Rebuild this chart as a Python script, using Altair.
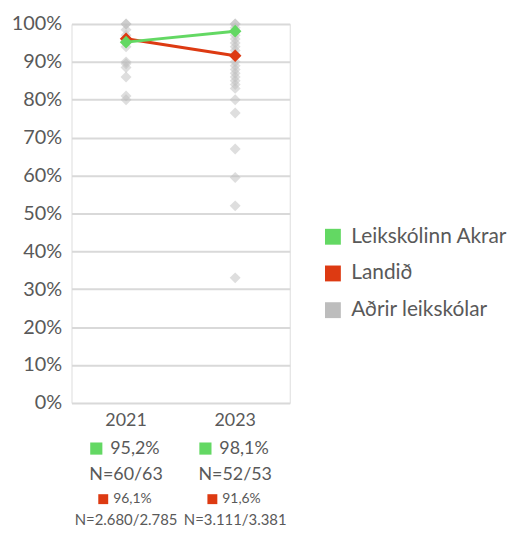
import altair as alt
import pandas as pd

years = ["2021", "2023"]
series = ["Leikskólinn Akrar", "Landið", "Aðrir leikskólar"]
colors = ["#63d863", "#dd3a12", "#bdbdbd"]

akrar = [95.2, 98.1]
landid = [96.1, 91.6]
akrar_n = ["N=60/63", "N=52/53"]
landid_n = ["N=2.680/2.785", "N=3.111/3.381"]

other_2021 = [100, 100, 98.5, 97, 96, 94, 90, 89.5, 88.5, 86, 81, 80]
other_2023 = [100, 100, 99, 98, 97, 96, 95, 94, 93, 92, 90, 89, 88, 87, 86,
              85, 84, 83, 80, 76.5, 67, 59.5, 52, 33]

FONT = "Lato"
TXT = "#595959"

others = pd.DataFrame(
    [{"year": "2021", "value": v, "series": series[2]} for v in other_2021]
    + [{"year": "2023", "value": v, "series": series[2]} for v in other_2023]
)
main = pd.DataFrame(
    [{"year": y, "value": v, "series": series[0]} for y, v in zip(years, akrar)]
    + [{"year": y, "value": v, "series": series[1]} for y, v in zip(years, landid)]
)
labels = pd.DataFrame({
    "year": years,
    "akrar_pct": [f"{v:.1f}".replace(".", ",") + "%" for v in akrar],
    "landid_pct": [f"{v:.1f}".replace(".", ",") + "%" for v in landid],
    "akrar_n": akrar_n,
    "landid_n": landid_n,
})

x = alt.X("year:N", title=None,
          scale=alt.Scale(type="band", paddingInner=0, paddingOuter=0, domain=years),
          axis=None)
y = alt.Y("value:Q", title=None,
          scale=alt.Scale(domain=[0, 100], nice=False),
          axis=alt.Axis(values=list(range(0, 101, 10)), labelExpr="datum.value + '%'",
                        grid=True, gridColor="#d9d9d9", gridWidth=2, domain=False,
                        ticks=False, labelPadding=10, labelFontSize=20,
                        labelColor=TXT, labelFont=FONT, minExtent=64, maxExtent=64))
color = alt.Color("series:N", title=None,
                  scale=alt.Scale(domain=series, range=colors),
                  legend=alt.Legend(orient="none", legendX=253, legendY=204,
                                    symbolType="square", symbolSize=256,
                                    symbolOpacity=1, symbolStrokeWidth=0,
                                    labelFontSize=21, labelFont=FONT, labelColor=TXT,
                                    rowPadding=15, labelOffset=8))

gray = alt.Chart(others).mark_point(shape="diamond", filled=True, size=121,
                                    opacity=0.5).encode(x=x, y=y, color=color)

red_df = main[main.series == series[1]]
green_df = main[main.series == series[0]]
red_line = alt.Chart(red_df).mark_line(strokeWidth=3).encode(x=x, y=y, color=color)
red_pt = alt.Chart(red_df).mark_point(shape="diamond", filled=True, size=160,
                                      opacity=1).encode(x=x, y=y, color=color)
green_line = alt.Chart(green_df).mark_line(strokeWidth=3).encode(x=x, y=y, color=color)
green_pt = alt.Chart(green_df).mark_point(shape="diamond", filled=True, size=160,
                                          opacity=1).encode(x=x, y=y, color=color)

base = alt.Chart(labels)
year_txt = base.mark_text(fontSize=18, font=FONT, color=TXT, baseline="middle").encode(
    x=x, y=alt.value(400), text="year:N")
g_sq = base.mark_square(size=150, opacity=1, color=colors[0], xOffset=-30).encode(
    x=x, y=alt.value(428))
g_txt = base.mark_text(fontSize=18, font=FONT, color=TXT, align="left",
                       baseline="middle", dx=-16).encode(
    x=x, y=alt.value(428), text="akrar_pct:N")
g_n = base.mark_text(fontSize=18, font=FONT, color=TXT, baseline="middle").encode(
    x=x, y=alt.value(455), text="akrar_n:N")
r_sq = base.mark_square(size=100, opacity=1, color=colors[1], xOffset=-23).encode(
    x=x, y=alt.value(479))
r_txt = base.mark_text(fontSize=14, font=FONT, color=TXT, align="left",
                       baseline="middle", dx=-13).encode(
    x=x, y=alt.value(479), text="landid_pct:N")
r_n = base.mark_text(fontSize=15, font=FONT, color=TXT, baseline="middle").encode(
    x=x, y=alt.value(500), text="landid_n:N")

chart = alt.layer(gray, red_line, red_pt, green_line, green_pt,
                  year_txt, g_sq, g_txt, g_n, r_sq, r_txt, r_n).properties(
    width=220, height=382,
    autosize=alt.AutoSizeParams(type="none"),
    padding={"left": 64, "top": 14, "right": 222, "bottom": 125},
).configure_view(stroke=None).configure(background="white")

chart.save("out.html", embed_options={"renderer": "svg", "actions": False})
